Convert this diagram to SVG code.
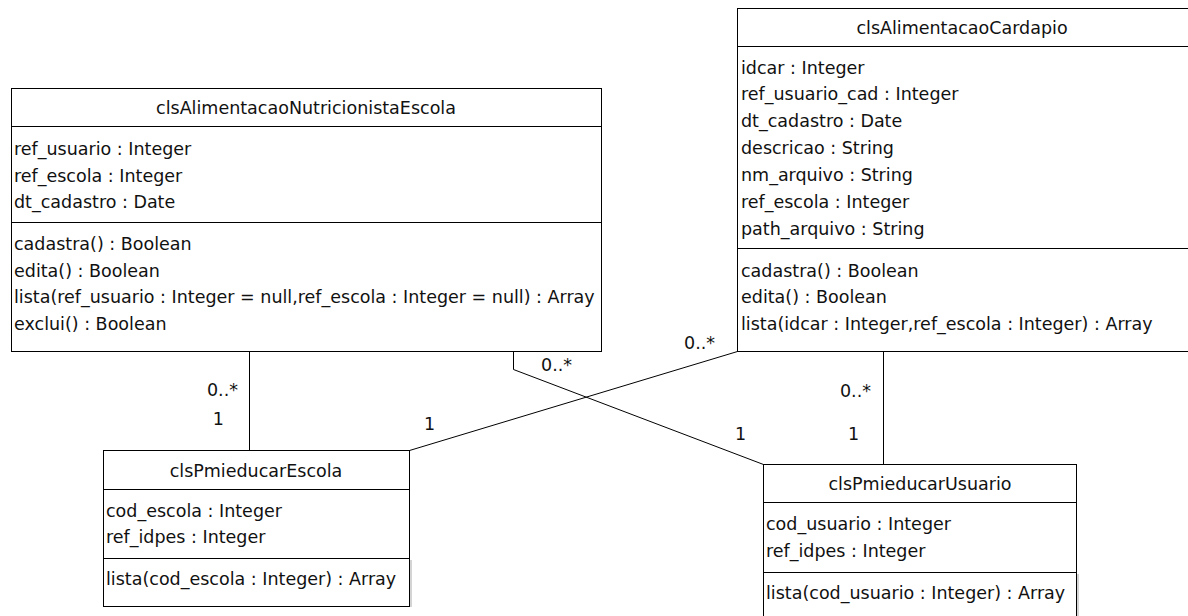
<svg xmlns="http://www.w3.org/2000/svg" width="1188" height="616" viewBox="0 0 1188 616">
<style>
.box{fill:#fff;stroke:#000;stroke-width:1}
.sep{stroke:#000;stroke-width:1}
.sh{fill:#d4d4d4}
text{font-family:"DejaVu Sans","Liberation Sans",sans-serif;font-size:17.5px;fill:#111}
.t{text-anchor:middle}
.c{fill:none;stroke:#000;stroke-width:1}
</style>
<rect width="1188" height="616" fill="#fff"/>
<g id="connectors">
<path class="c" d="M249.5 351.5V450.5"/>
<path class="c" d="M513.5 351.5V369.5L763.5 464.5"/>
<path class="c" d="M737.5 351.5L409.5 450.5"/>
<path class="c" d="M883.5 351.5V464.5"/>
<text x="238" y="396" text-anchor="end">0..*</text>
<text x="224" y="425" text-anchor="end">1</text>
<text x="541" y="371">0..*</text>
<text x="684" y="349">0..*</text>
<text x="424" y="430">1</text>
<text x="871" y="397" text-anchor="end">0..*</text>
<text x="735" y="440">1</text>
<text x="848" y="440">1</text>
</g>
<g id="clsAlimentacaoNutricionistaEscola">
<rect class="box" x="11.5" y="88.5" width="590" height="263"/>
<path class="sep" d="M11.5 126.5H601.5M11.5 222.5H601.5"/>
<text class="t" x="306" y="114">clsAlimentacaoNutricionistaEscola</text>
<text x="14" y="155">ref_usuario : Integer</text>
<text x="14" y="182">ref_escola : Integer</text>
<text x="14" y="208">dt_cadastro : Date</text>
<text x="14" y="250">cadastra() : Boolean</text>
<text x="14" y="277">edita() : Boolean</text>
<text x="14" y="303">lista(ref_usuario : Integer = null,ref_escola : Integer = null) : Array</text>
<text x="14" y="330">exclui() : Boolean</text>
</g>
<g id="clsAlimentacaoCardapio">
<rect class="box" x="737.5" y="8.5" width="460" height="343"/>
<path class="sep" d="M737.5 46.5H1197M737.5 248.5H1197"/>
<text class="t" x="962" y="34">clsAlimentacaoCardapio</text>
<text x="741" y="74">idcar : Integer</text>
<text x="741" y="100">ref_usuario_cad : Integer</text>
<text x="741" y="127">dt_cadastro : Date</text>
<text x="741" y="154">descricao : String</text>
<text x="741" y="181">nm_arquivo : String</text>
<text x="741" y="208">ref_escola : Integer</text>
<text x="741" y="235">path_arquivo : String</text>
<text x="741" y="277">cadastra() : Boolean</text>
<text x="741" y="303">edita() : Boolean</text>
<text x="741" y="330">lista(idcar : Integer,ref_escola : Integer) : Array</text>
</g>
<g id="clsPmieducarEscola">
<rect class="sh" x="410" y="560" width="2" height="47"/>
<rect class="box" x="103.5" y="450.5" width="306" height="156"/>
<path class="sep" d="M103.5 489.5H409.5M103.5 558.5H409.5"/>
<text class="t" x="256" y="477">clsPmieducarEscola</text>
<text x="106" y="517">cod_escola : Integer</text>
<text x="106" y="543">ref_idpes : Integer</text>
<text x="106" y="585">lista(cod_escola : Integer) : Array</text>
</g>
<g id="clsPmieducarUsuario">
<rect class="sh" x="1077" y="574" width="2" height="42"/>
<rect class="box" x="763.5" y="464.5" width="313" height="170"/>
<path class="sep" d="M763.5 502.5H1076.5M763.5 572.5H1076.5"/>
<text class="t" x="920" y="490">clsPmieducarUsuario</text>
<text x="766" y="530">cod_usuario : Integer</text>
<text x="766" y="557">ref_idpes : Integer</text>
<text x="766" y="599">lista(cod_usuario : Integer) : Array</text>
</g>
</svg>
